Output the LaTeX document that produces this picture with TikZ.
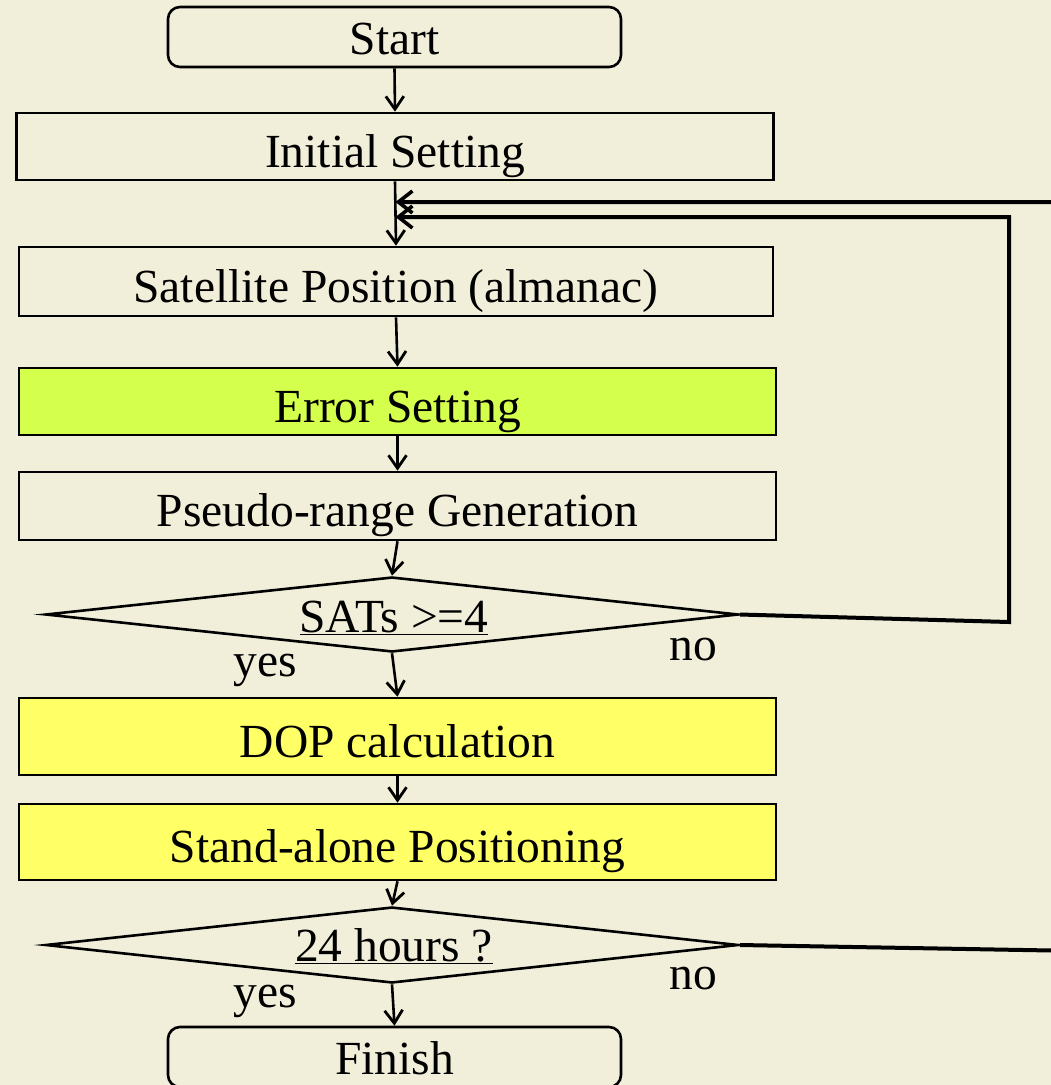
\documentclass[tikz,border=0pt]{standalone}
\usepackage{fontspec}
\setmainfont{Liberation Serif}
\usetikzlibrary{arrows.meta,shapes.geometric}
\definecolor{bg}{RGB}{241,239,217}
\definecolor{lime}{RGB}{212,255,76}
\definecolor{yel}{RGB}{255,255,102}
\begin{document}
\begin{tikzpicture}[x=1pt,y=-1pt,
  font=\fontsize{47.5}{57}\selectfont,
  box/.style={draw, line width=2.6pt, inner sep=0pt, text height=41pt, text depth=0pt, minimum width=757pt, minimum height=68pt},
  term/.style={box, rounded corners=12pt, text height=35pt, minimum width=453pt, minimum height=60pt},
  dia/.style={draw, diamond, line width=2.6pt, inner sep=0pt, aspect=9.2, minimum width=693pt, minimum height=75pt},
  lbl/.style={anchor=base, inner sep=0pt},
  arr/.style={line width=2.6pt, -{Straight Barb[length=13pt,width=18pt,line width=2.8pt]}},
  back/.style={line width=4pt, -{Straight Barb[length=14pt,width=22pt,line width=3.6pt]}}]
\useasboundingbox (0,0) rectangle (1051,1085);
\clip (0,0) rectangle (1051,1085);
\fill[bg] (0,0) rectangle (1051,1085);

\node[term] (start) at (394.5,37) {Start};
\node[box, minimum width=757pt, minimum height=67pt] (init) at (395,146.5) {Initial Setting};
\node[box, minimum width=754pt, minimum height=69pt] (sat) at (396,281.5) {Satellite Position (almanac)};
\node[box, fill=lime, minimum height=67pt] (err) at (397.5,401.5) {Error Setting};
\node[box] (pseudo) at (397.5,506) {Pseudo-range Generation};
\node[dia] (d1) at (392,614.5) {};
\node[lbl] (t1) at (394,632) {\underline{SATs >=4}};
\node[lbl] (y1) at (265,676) {yes};
\node[lbl] (n1) at (693,660) {no};
\node[box, fill=yel, minimum height=77pt] (dop) at (397.5,736.5) {DOP calculation};
\node[box, fill=yel, minimum height=76pt] (sap) at (397.5,842) {Stand-alone Positioning};
\node[dia, minimum height=76pt] (d2) at (392,945) {};
\node[lbl] (t2) at (394,961) {\underline{24 hours ?}};
\node[lbl] (y2) at (265,1007) {yes};
\node[lbl] (n2) at (693,989) {no};
\node[term] (fin) at (394.5,1057) {Finish};

\coordinate (j1) at (395.5,202);
\coordinate (j2) at (395.5,217);
\coordinate (c1) at (1009,622);
\coordinate (c2) at (1080,951);

\draw[arr] (start.south) -- (init.north);
\draw[arr] (init.south) -- (sat.north);
\draw[arr] (sat.south) -- (err.north);
\draw[arr] (err.south) -- (pseudo.north);
\draw[arr] (pseudo.south) -- (d1.north);
\draw[arr] (d1.south) -- (dop.north);
\draw[arr] (dop.south) -- (sap.north);
\draw[arr] (sap.south) -- (d2.north);
\draw[arr] (d2.south) -- (fin.north);

\draw[back] (d1.east) -- (c1) |- (j2);
\draw[back] (d2.east) -- (c2) |- (j1);
\end{tikzpicture}
\end{document}
